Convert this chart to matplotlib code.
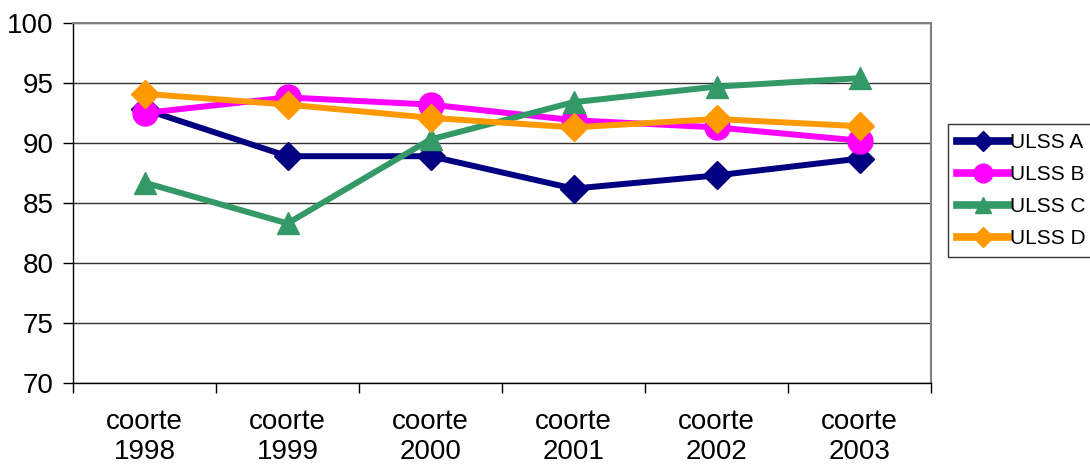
import numpy as np
import matplotlib.pyplot as plt

plt.rcParams['font.family'] = ['Liberation Sans', 'DejaVu Sans']

# Data
categories = ['coorte\n1998', 'coorte\n1999', 'coorte\n2000',
              'coorte\n2001', 'coorte\n2002', 'coorte\n2003']
ulss_a = [92.8, 88.9, 88.9, 86.2, 87.3, 88.7]
ulss_b = [92.5, 93.8, 93.2, 91.9, 91.3, 90.2]
ulss_c = [86.7, 83.3, 90.3, 93.4, 94.7, 95.4]
ulss_d = [94.1, 93.2, 92.1, 91.3, 92.0, 91.4]

fig = plt.figure(figsize=(10.9, 4.65), dpi=100)
ax = fig.add_axes([73 / 1090, 82 / 465, 858 / 1090, 360 / 465])

x = np.arange(len(categories))
ax.plot(x, ulss_a, color='#000080', lw=4.3, marker='D', ms=14, label='ULSS A')
ax.plot(x, ulss_b, color='#FF00FF', lw=4.3, marker='o', ms=18, label='ULSS B')
ax.plot(x, ulss_c, color='#339966', lw=4.3, marker='^', ms=16, label='ULSS C')
ax.plot(x, ulss_d, color='#FF9900', lw=4.3, marker='D', ms=14, label='ULSS D')

ax.set_xlim(-0.5, len(categories) - 0.5)
ax.set_ylim(70, 100)
ax.set_yticks(range(70, 101, 5))
ax.set_xticks(x)
ax.set_xticklabels(categories, linespacing=1.2)
ax.set_xticks(np.arange(-0.5, len(categories), 1), minor=True)
ax.tick_params(axis='x', which='major', length=0, labelsize=20, pad=19)
ax.tick_params(axis='x', which='minor', length=7, width=1, direction='out')
ax.tick_params(axis='y', length=7, width=1, direction='out', labelsize=20, pad=7)

ax.grid(axis='y', color='#333333', lw=1)
ax.set_axisbelow(True)
for side in ['top', 'right']:
    ax.spines[side].set_color('#808080')
    ax.spines[side].set_linewidth(1.5)
for side in ['left', 'bottom']:
    ax.spines[side].set_color('black')
    ax.spines[side].set_linewidth(1)

leg = fig.legend(loc='upper left', bbox_to_anchor=(948 / 1090, 1 - 124 / 465),
                 frameon=True, fancybox=False, edgecolor='black', fontsize=15,
                 handlelength=2.5, handletextpad=0.05, labelspacing=0.62,
                 borderpad=0.45, markerscale=0.75, borderaxespad=0)
leg.get_frame().set_linewidth(1)
for line in leg.get_lines():
    line.set_linewidth(5.5)

fig.savefig('out.png', dpi=100)
